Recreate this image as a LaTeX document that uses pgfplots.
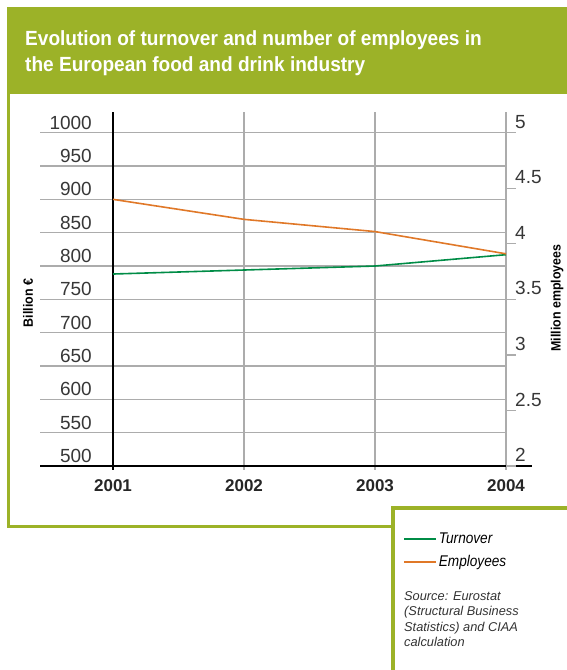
\documentclass[border=0pt]{standalone}
\usepackage{pgfplots}
\pgfplotsset{compat=1.18}
\usepackage{fontspec}
\setmainfont{Liberation Sans}
\newfontfamily\condfont[FakeStretch=0.93]{Liberation Sans}
\newfontfamily\legfont[FakeStretch=0.88]{Liberation Sans}
\newfontfamily\labfont[FakeStretch=0.92]{Liberation Sans}
\definecolor{hdrgreen}{RGB}{156,178,40}
\definecolor{turncol}{RGB}{0,140,70}
\definecolor{empcol}{RGB}{224,120,40}
\definecolor{gridcol}{RGB}{172,172,172}
\definecolor{tickcol}{RGB}{55,55,55}
\pgfplotstableread{
year value
2001 788
2002 794
2003 800
2004 817
}\turnover
\pgfplotstableread{
year value
2001 4.40
2002 4.22
2003 4.11
2004 3.91
}\employees
\pgfplotsset{
  mylegend/.style={anchor=west, draw=none, fill=none, inner sep=0pt, font=\legfont\itshape\fontsize{15.5}{18}\selectfont, cells={anchor=west}},
}
\begin{document}
\begin{tikzpicture}
\path[use as bounding box] (0pt,0pt) rectangle (567pt,670pt);
% header
\fill[hdrgreen] (6.5pt,662.7pt) rectangle (567pt,575.7pt);
\node[anchor=base west, inner sep=0pt, text=white, font=\condfont\bfseries\fontsize{20.5}{26}\selectfont] at (25pt,624.3pt) {Evolution of turnover and number of employees in};
\node[anchor=base west, inner sep=0pt, text=white, font=\condfont\bfseries\fontsize{20.5}{26}\selectfont] at (25pt,598.3pt) {the European food and drink industry};
% frame
\draw[hdrgreen, line width=2.5pt] (8.3pt,576pt) -- (8.3pt,143.3pt) -- (393pt,143.3pt);
\draw[hdrgreen, line width=4pt] (393pt,0pt) -- (393pt,161.7pt) -- (567pt,161.7pt);

\begin{axis}[
  at={(40pt,204pt)}, anchor=south west, scale only axis,
  width=491.6pt, height=333.3pt,
  xmin=2000.4427, xmax=2004.1954, ymin=500, ymax=1000,
  clip=false,
  axis line style={draw=none},
  major tick length=0pt,
  xtick={2001,2002,2003,2004},
  xticklabels={2001,2002,2003,2004},
  ytick={500,550,600,650,700,750,800,850,900,950,1000},
  /pgf/number format/1000 sep={},
  /pgf/number format/assume math mode=true,
  xticklabel style={anchor=base, inner sep=0pt, yshift=-26pt, font=\bfseries\fontsize{17}{20}\selectfont, text=black!85},
  yticklabel style={anchor=south east, inner sep=0pt, xshift=52pt, yshift=3pt, font=\fontsize{19}{22}\selectfont, text=tickcol},
  ylabel={Billion €},
  ylabel style={at={(axis description cs:-0.0244,0.489)}, anchor=center, rotate=0, font=\labfont\bfseries\fontsize{13.5}{16}\selectfont},
  legend style={mylegend, at={(axis description cs:0.7384,-0.219)}},
  legend image code/.code={\draw[#1, line width=1.6pt] (0pt,0pt) -- (32pt,0pt);},
]
% horizontal grid
\pgfplotsinvokeforeach{550,600,650,700,750,800,850,900,950,1000}{
  \draw[gridcol, line width=1.3pt] (axis cs:2000.4427,#1) -- (axis cs:2004,#1);
}
% vertical lines
\draw[gridcol, line width=1.3pt] (axis cs:2002,494) -- (axis cs:2002,1031.5);
\draw[gridcol, line width=1.3pt] (axis cs:2003,494) -- (axis cs:2003,1031.5);
\draw[gridcol, line width=1.3pt] (axis cs:2004,494) -- (axis cs:2004,1031.5);
\draw[black, line width=1.2pt] (axis cs:2001,494) -- (axis cs:2001,1031.5);
\draw[black, line width=1.2pt] (axis cs:2000.4427,500) -- (axis cs:2004.1954,500);
\addplot[color=turncol, line width=1.6pt, no markers] table[x=year, y=value] {\turnover};
\addlegendentry{Turnover}
\end{axis}

\begin{axis}[
  at={(113pt,204pt)}, anchor=south west, scale only axis,
  width=393pt, height=333.3pt,
  xmin=2001, xmax=2004, ymin=2, ymax=5,
  clip=false,
  hide x axis,
  axis y line*=right,
  y axis line style={draw=none},
  ytick={2,2.5,3,3.5,4,4.5,5},
  tick align=outside,
  major tick length=10pt,
  major tick style={gridcol, line width=1.3pt},
  /pgf/number format/assume math mode=true,
  yticklabel style={anchor=south west, inner sep=0pt, xshift=-1pt, yshift=4pt, font=\fontsize{19}{22}\selectfont, text=tickcol},
  ylabel={Million employees},
  ylabel style={at={(axis description cs:1.1298,0.504)}, anchor=center, rotate=0, font=\labfont\bfseries\fontsize{13.5}{16}\selectfont},
  legend style={mylegend, at={(axis description cs:0.7379,-0.288)}},
  legend image code/.code={\draw[#1, line width=1.6pt] (0pt,0pt) -- (32pt,0pt);},
]
\addplot[color=empcol, line width=1.6pt, no markers] table[x=year, y=value] {\employees};
\addlegendentry{Employees}
\end{axis}

\node[anchor=north west, inner sep=0pt, align=left, font=\itshape\fontsize{12.8}{15.5}\selectfont, text=black!80] at (404pt,79pt) {Source: Eurostat\\(Structural Business\\Statistics) and CIAA\\calculation};
\end{tikzpicture}
\end{document}
